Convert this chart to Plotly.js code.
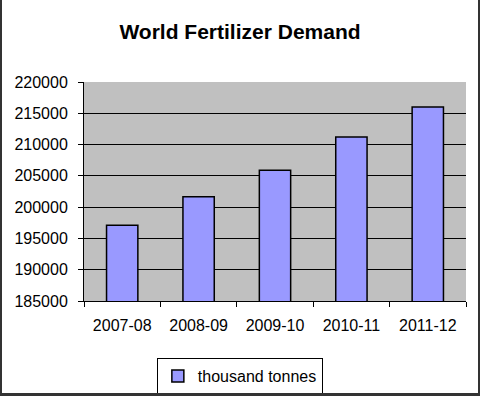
<!DOCTYPE html>
<html>
<head>
<meta charset="utf-8">
<script src="https://cdn.plot.ly/plotly-3.0.1.min.js"></script>
<style>
  html, body { margin: 0; padding: 0; background: #fff; }
  #wrap { position: relative; width: 480px; height: 396px; }
  #chart { width: 480px; height: 396px; }
  #frame { position: absolute; left: 0; top: 0; width: 480px; height: 396px; box-sizing: border-box;
           border-left: 2px solid #333; border-right: 2px solid #333; border-bottom: 3px solid #333;
           pointer-events: none; }
</style>
</head>
<body>
<div id="wrap">
  <div id="chart"></div>
  <div id="frame"></div>
</div>
<script>
const categories = ["2007-08", "2008-09", "2009-10", "2010-11", "2011-12"];
const demand = [197100, 201650, 205900, 211200, 216000];
const seriesName = "thousand tonnes";
const chartTitle = "World Fertilizer Demand";

const trace = {
  type: "bar",
  x: categories,
  y: demand,
  name: seriesName,
  width: 0.41,
  marker: { color: "#9999ff", line: { color: "#000", width: 1.5 } },
  showlegend: true
};

const layout = {
  width: 480, height: 396,
  margin: { l: 84, r: 14, t: 82, b: 95 },
  paper_bgcolor: "#ffffff",
  plot_bgcolor: "#c0c0c0",
  font: { family: "Liberation Sans, Arial, sans-serif", size: 16, color: "#000" },
  title: { text: "<b>" + chartTitle + "</b>", x: 0.5, xanchor: "center", xref: "container",
           y: 0.919, yanchor: "middle", yref: "container",
           font: { size: 21, color: "#000" } },
  xaxis: {
    type: "category",
    showline: true, linecolor: "#000", linewidth: 1,
    ticks: "outside", tickson: "boundaries", ticklen: 5, tickcolor: "#000",
    showgrid: false, zeroline: false,
    ticklabelstandoff: 10, tickangle: 0,
    tickfont: { size: 16 }
  },
  yaxis: {
    range: [185000, 220000], dtick: 5000, tick0: 185000,
    showline: true, linecolor: "#000", linewidth: 1,
    ticks: "outside", ticklen: 5, tickcolor: "#000",
    showgrid: true, gridcolor: "#000", gridwidth: 1,
    zeroline: false, tickformat: "d",
    ticklabelstandoff: 7,
    tickfont: { size: 16 }
  },
  showlegend: true,
  legend: {
    x: 0.408, xanchor: "center",
    y: 0.096, yanchor: "top", yref: "container",
    bordercolor: "#000", borderwidth: 1, bgcolor: "#fff",
    itemwidth: 30,
    font: { size: 16 }
  }
};

Plotly.newPlot("chart", [trace], layout, { displayModeBar: false, staticPlot: true });
</script>
</body>
</html>
